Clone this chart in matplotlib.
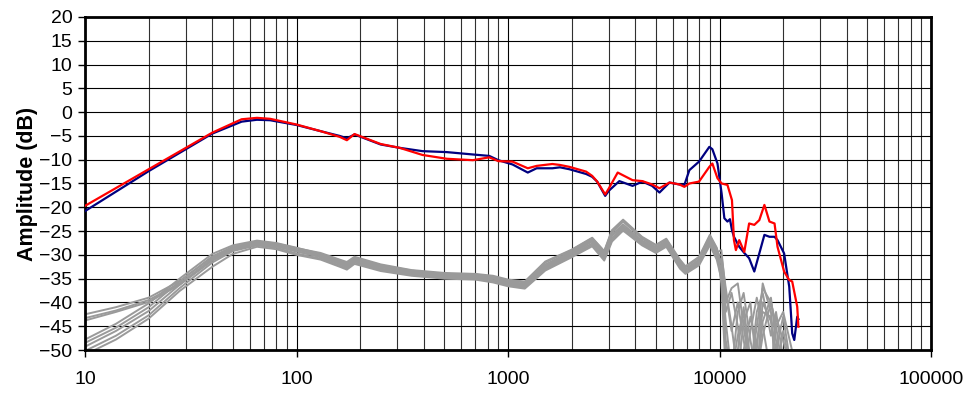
import numpy as np
import matplotlib
matplotlib.use("Agg")
import matplotlib.pyplot as plt
from matplotlib.ticker import LogLocator, FixedLocator, NullFormatter

plt.rcParams['font.family'] = ['Liberation Sans', 'DejaVu Sans']

# measured responses (Hz, dB)
blue_f = [10, 20, 40, 55, 65, 75, 100, 130, 160, 173, 188, 250, 307, 394, 513, 682, 815, 900, 1050, 1240,
          1365, 1620, 1760, 1950, 2340, 2500, 2640, 2880, 3000, 3360, 3880, 4320, 4800, 5200, 5800, 6460,
          6820, 7200, 8000, 8950, 9250, 9780, 10230, 10540, 10900, 11200, 11450, 11700, 12390, 13090,
          13800, 14600, 15420, 16300, 17220, 18200, 18800, 20200, 21360, 22060, 22560, 23300, 23600]
blue_db = [-20.8, -12.4, -4.5, -2.0, -1.6, -1.7, -2.7, -4.0, -5.0, -5.5, -4.7, -6.8, -7.5, -8.2, -8.4, -8.9,
           -9.2, -10.1, -11.0, -12.7, -11.8, -11.8, -11.6, -12.0, -13.0, -13.6, -14.6, -17.6, -16.5, -14.5,
           -15.5, -14.6, -15.5, -16.9, -14.8, -15.2, -15.3, -12.2, -10.4, -7.3, -7.8, -10.8, -17.1, -22.3,
           -23.0, -22.5, -24.8, -26.2, -28.3, -29.6, -30.7, -33.5, -29.7, -25.8, -26.2, -26.2, -26.9, -29.7,
           -36.7, -46.5, -47.9, -43.0, -43.5]

red_f = [10, 20, 40, 55, 65, 75, 100, 130, 160, 173, 188, 250, 307, 394, 513, 682, 815, 900, 1050, 1240,
         1365, 1620, 1760, 1950, 2340, 2500, 2640, 2880, 3000, 3300, 3880, 4320, 4800, 5200, 5800, 6460,
         6820, 7200, 8000, 8950, 9250, 9780, 10230, 10900, 11450, 11700, 11950, 12390, 13090, 13800,
         14600, 15420, 16300, 17220, 18200, 18800, 20200, 21360, 22060, 23300, 23600]
red_db = [-19.7, -12.0, -4.3, -1.5, -1.2, -1.4, -2.6, -4.0, -5.2, -5.9, -4.6, -6.7, -7.5, -9.0, -9.8, -10.1,
          -9.5, -10.3, -10.4, -11.8, -11.3, -10.9, -11.1, -11.5, -12.5, -13.4, -14.6, -17.3, -16.0, -12.7,
          -14.3, -14.5, -15.2, -16.0, -14.8, -15.2, -15.7, -15.0, -14.6, -11.5, -10.8, -13.9, -15.0, -15.3,
          -18.5, -26.9, -29.0, -26.9, -29.4, -23.4, -23.7, -22.7, -19.5, -23.0, -23.4, -28.3, -33.5, -35.3,
          -35.6, -40.9, -45.1]

# gray bundle, all on one frequency grid
gray_f = [10, 14, 20, 28, 40, 50, 65, 80, 100,
          130, 160, 173, 188, 250, 350, 500, 700, 850, 1000, 1200, 1500, 2000, 2500, 2850, 3100, 3500,
          4300, 5000, 5600, 6500, 6900, 8000, 9000, 9700,
          10200, 10700, 11400, 12200, 13000, 14000, 15000, 16000, 17500, 18500, 20000, 22000, 23500]

gray_u1 = [-42.5, -41.0, -39.0, -35.5, -30.5, -28.5, -27.2, -27.6, -28.6,
           -29.6, -31.0, -31.5, -30.4, -32.0, -33.2, -33.8, -34.0, -34.4, -35.2, -35.6, -31.4, -28.9, -26.4,
           -29.2, -24.8, -22.6, -26.2, -27.9, -26.6, -31.0, -32.4, -30.4, -25.8, -28.5,
           -32, -40, -37, -36, -45, -55, -45, -37, -40, -45, -42, -50, -55]
gray_u2 = [-43.3, -41.7, -39.5, -36.0, -31.0, -28.8, -27.5, -27.9, -28.9,
           -30.0, -31.4, -31.9, -30.8, -32.4, -33.5, -34.2, -34.3, -34.8, -35.6, -36.1, -32.0, -29.3, -26.8,
           -29.6, -25.4, -23.0, -26.6, -28.4, -27.1, -31.6, -33.0, -31.0, -26.4, -29.2,
           -34, -48, -55, -42, -38, -48, -55, -44, -39, -48, -55, -55, -55]
gray_u3 = [-43.8, -42.0, -39.9, -36.3, -31.2, -29.0, -27.8, -28.2, -29.3,
           -30.4, -31.8, -32.4, -31.2, -32.9, -33.9, -34.6, -34.7, -35.3, -36.0, -36.5, -32.6, -29.7, -27.2,
           -30.2, -26.0, -24.0, -27.2, -28.9, -27.5, -32.0, -33.4, -31.4, -27.0, -29.8,
           -30, -37, -45, -55, -50, -43, -50, -36, -42, -55, -46, -55, -55]
gray_l1 = [-47.8, -44.5, -40.2, -35.0, -29.8, -28.0, -27.0, -27.5, -28.5,
           -29.8, -31.2, -31.7, -30.6, -32.2, -33.3, -34.0, -34.1, -34.6, -35.4, -35.8, -31.6, -29.0, -26.5,
           -29.3, -25.0, -22.8, -26.4, -28.0, -26.8, -31.2, -32.6, -30.6, -26.0, -28.7,
           -36, -55, -55, -50, -41, -52, -55, -40, -44, -50, -43, -55, -55]
gray_l2 = [-48.5, -45.3, -41.0, -35.6, -30.3, -28.3, -27.3, -27.8, -28.8,
           -30.2, -31.6, -32.1, -31.0, -32.6, -33.7, -34.4, -34.5, -35.0, -35.8, -36.3, -32.3, -29.5, -27.0,
           -29.9, -25.8, -23.6, -27.0, -28.6, -27.3, -31.8, -33.2, -31.2, -26.7, -29.5,
           -29, -38, -46, -40, -48, -55, -42, -38, -47, -42, -52, -55, -55]
gray_l3 = [-49.3, -46.0, -41.8, -36.3, -30.8, -28.7, -27.6, -28.1, -29.2,
           -30.5, -31.9, -32.6, -31.3, -33.0, -34.0, -34.7, -34.8, -35.4, -36.2, -36.7, -32.8, -29.9, -27.6,
           -30.6, -26.5, -24.3, -27.5, -29.0, -27.8, -32.3, -33.5, -31.6, -27.3, -30.2,
           -33, -44, -55, -55, -44, -40, -55, -47, -40, -45, -55, -55, -55]
gray_l4 = [-50.2, -47.0, -42.7, -37.0, -31.6, -29.2, -28.0, -28.5, -29.7,
           -30.8, -32.2, -32.9, -31.6, -33.2, -34.2, -34.9, -35.0, -35.6, -36.4, -36.9, -33.0, -30.2, -27.9,
           -30.9, -26.9, -24.6, -27.8, -29.3, -28.0, -32.6, -33.8, -31.9, -27.6, -30.6,
           -31, -42, -38, -45, -55, -46, -39, -45, -55, -43, -48, -55, -55]
gray_l5 = [-51.0, -47.8, -43.4, -37.6, -32.5, -29.8, -28.3, -28.8, -30.0,
           -31.0, -32.5, -33.1, -31.9, -33.4, -34.4, -35.0, -35.2, -35.8, -36.6, -37.1, -33.3, -30.5, -28.2,
           -31.2, -27.2, -24.9, -28.0, -29.6, -28.3, -32.9, -34.0, -32.2, -28.0, -31.0,
           -35, -50, -55, -47, -42, -55, -48, -42, -43, -55, -50, -55, -55]

gray_curves = [gray_u1, gray_u2, gray_u3, gray_l1, gray_l2, gray_l3, gray_l4, gray_l5]

fig = plt.figure(figsize=(9.64, 3.98), dpi=100)
ax = fig.add_axes([0.0882, 0.1206, 0.8776, 0.8367])

for g in gray_curves:
    ax.plot(gray_f, g, color='#9a9a9a', lw=1.4, zorder=2)
ax.plot(blue_f, blue_db, color='#000080', lw=1.6, zorder=3)
ax.plot(red_f, red_db, color='#ff0000', lw=1.6, zorder=4)

ax.set_xscale('log')
ax.set_xlim(10, 100000)
ax.set_ylim(-50, 20)
ax.set_yticks(np.arange(-50, 21, 5))
ax.xaxis.set_major_locator(FixedLocator([10, 100, 1000, 10000, 100000]))
ax.set_xticklabels(['10', '100', '1000', '10000', '100000'])
ax.xaxis.set_minor_locator(LogLocator(base=10, subs=np.arange(2, 10)))
ax.xaxis.set_minor_formatter(NullFormatter())

ax.grid(True, which='major', color='black', lw=0.8, zorder=1)
ax.grid(True, which='minor', axis='x', color='#303030', lw=0.8, zorder=1)
ax.set_axisbelow(True)

ax.tick_params(axis='x', which='major', length=5, width=1, pad=10, labelsize=14)
ax.tick_params(axis='x', which='minor', length=0)
ax.tick_params(axis='y', length=5, width=1, pad=4, labelsize=14)
for s in ax.spines.values():
    s.set_linewidth(2.0)

ax.set_ylabel('Amplitude (dB)', fontsize=15.5, fontweight='bold', labelpad=1)

fig.savefig('out.png', dpi=100)
